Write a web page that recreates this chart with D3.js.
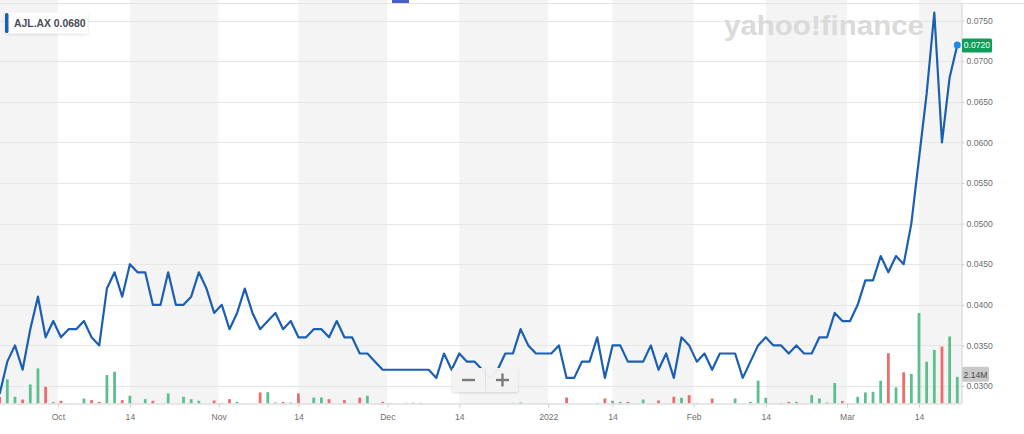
<!DOCTYPE html>
<html>
<head>
<meta charset="utf-8">
<script src="https://cdn.jsdelivr.net/npm/d3@7"></script>
<style>
  body { margin: 0; background: #fff; }
  svg { display: block; font-family: "Helvetica Neue", Arial, "Liberation Sans", sans-serif; }
  .axis path, .axis line { stroke: #cfcfcf; }
  .axis text { fill: #6e6e6e; font-size: 8.6px; }
</style>
</head>
<body>
<div id="chart"></div>
<script>
//Chart Data (one value per trading day, Sep 21 2021 -> Mar 21 2022)
const symbol = "AJL.AX";
const hoverValue = "0.0680";
const closes = [
  0.029, 0.033, 0.035, 0.032, 0.037, 0.041, 0.036, 0.038, 0.036, 0.037,
  0.037, 0.038, 0.036, 0.035, 0.042, 0.044, 0.041, 0.045, 0.044, 0.044,
  0.040, 0.040, 0.044, 0.040, 0.040, 0.041, 0.044, 0.042, 0.039, 0.040,
  0.037, 0.039, 0.042, 0.039, 0.037, 0.038, 0.039, 0.037, 0.038, 0.036,
  0.036, 0.037, 0.037, 0.036, 0.038, 0.036, 0.036, 0.034, 0.034, 0.033,
  0.032, 0.032, 0.032, 0.032, 0.032, 0.032, 0.032, 0.031, 0.034, 0.032,
  0.034, 0.033, 0.033, 0.032, 0.031, 0.032, 0.034, 0.034, 0.037, 0.035,
  0.034, 0.034, 0.034, 0.035, 0.031, 0.031, 0.033, 0.033, 0.036, 0.031,
  0.035, 0.035, 0.033, 0.033, 0.033, 0.035, 0.032, 0.034, 0.031, 0.036,
  0.035, 0.033, 0.034, 0.032, 0.034, 0.034, 0.034, 0.031, 0.033, 0.035,
  0.036, 0.035, 0.035, 0.034, 0.035, 0.034, 0.034, 0.036, 0.036, 0.039,
  0.038, 0.038, 0.040, 0.043, 0.043, 0.046, 0.044, 0.046, 0.045, 0.050,
  0.058, 0.066, 0.076, 0.060, 0.068, 0.072
];
const priorClose = 0.030;
// volume in millions
const volumes = [
  0.54, 1.94, 0.54, 0.32, 1.53, 2.82, 1.34, 0.11, 0.22, 0,
  0, 0.40, 0.27, 0.13, 2.28, 2.55, 0.27, 0.62, 0, 0.35,
  0.22, 0, 0.81, 0, 0.54, 0.35, 0.22, 0, 0.24, 0.05,
  0.35, 0.13, 0, 0, 0.89, 0.91, 0.08, 0.13, 0.08, 0.81,
  0, 0.48, 0.48, 0.35, 0, 0.27, 0, 0.48, 0.62, 0,
  0.13, 0.05, 0, 0.05, 0.06, 0.05, 0, 0, 0, 0,
  0, 0, 0, 0, 0, 0, 0, 0.05, 0.08, 0,
  0, 0, 0, 0, 0.48, 0, 0, 0, 0.05, 0.40,
  0.22, 0.13, 0.13, 0, 0.32, 0, 0.24, 0, 0.54, 0.46,
  0.67, 0.05, 0, 0.40, 0, 0, 0.40, 0, 0.13, 1.83,
  0.46, 0, 0.05, 0.13, 0.13, 0, 0.67, 0.40, 0.08, 1.64,
  0.19, 0, 0.54, 0.89, 0.94, 1.83, 4.03, 1.29, 2.50, 2.37,
  7.26, 3.35, 4.30, 4.57, 5.38, 2.14
];
const lastVolumeLabel = "2.14M";
// tick positions in trading-day index (month starts fall between two days)
const tickIndex = [7.6, 17, 28.6, 39, 50.6, 60, 71.6, 80, 90.6, 100, 110.6, 120];
const tickLabels = ["Oct", "14", "Nov", "14", "Dec", "14", "2022", "14", "Feb", "14", "Mar", "14"];
const priceTicks = [0.030, 0.035, 0.040, 0.045, 0.050, 0.055, 0.060, 0.065, 0.070, 0.075];

//Dimensions
let svgWidth = 1024;
let svgHeight = 434;
let plotRight = 961.5;
let baseline = 403.5;

let svg = d3.select("#chart")
  .append("svg")
  .attr("width", svgWidth)
  .attr("height", svgHeight);

//Scales
let xScale = d3.scaleLinear()
  .domain([0, closes.length - 1])
  .range([-0.36, 957.3]);
let yScale = d3.scaleLinear()
  .domain([0.030, 0.075])
  .range([386, 20.6]);
let volScale = d3.scaleLinear()
  .domain([0, 8])
  .range([baseline, baseline - 8 * 12.46]);

//Clip for plot area and a soft shadow
let defs = svg.append("defs");
defs.append("clipPath").attr("id", "plotClip")
  .append("rect").attr("x", 0).attr("y", 0).attr("width", plotRight).attr("height", baseline);
let filter = defs.append("filter").attr("id", "shadow")
  .attr("x", "-20%").attr("y", "-30%").attr("width", "140%").attr("height", "160%");
filter.append("feDropShadow").attr("dx", 0).attr("dy", 1).attr("stdDeviation", 1.2)
  .attr("flood-color", "#000").attr("flood-opacity", 0.15);

//Alternating half-month bands (gray from the 14th to next month start)
let bounds = [xScale.domain()[0] - 2].concat(tickIndex).concat([xScale.domain()[1] + 2]);
let bands = [];
for (let i = 0; i < bounds.length - 1; i++) {
  let startsAt14 = i === 0 || tickLabels[i - 1] === "14";
  bands.push({ from: bounds[i], to: bounds[i + 1], gray: startsAt14 });
}
let plot = svg.append("g").attr("clip-path", "url(#plotClip)");
plot.selectAll("rect.band")
  .data(bands)
  .enter()
  .append("rect")
  .attr("class", "band")
  .attr("x", d => xScale(d.from))
  .attr("y", 0)
  .attr("width", d => xScale(d.to) - xScale(d.from))
  .attr("height", baseline)
  .attr("fill", d => d.gray ? "#f4f4f4" : "#ffffff");

//Horizontal gridlines
plot.selectAll("line.grid")
  .data(priceTicks)
  .enter()
  .append("line")
  .attr("class", "grid")
  .attr("x1", 0)
  .attr("x2", plotRight)
  .attr("y1", d => Math.round(yScale(d)) + 0.5)
  .attr("y2", d => Math.round(yScale(d)) + 0.5)
  .attr("stroke", "#e6e6e6");

//Top frame line and scroll marker
svg.append("line")
  .attr("x1", 0).attr("x2", svgWidth).attr("y1", 3.5).attr("y2", 3.5)
  .attr("stroke", "#e3e3e3");
svg.append("rect")
  .attr("x", 392).attr("y", 0).attr("width", 17).attr("height", 3)
  .attr("fill", "#4a5cd0");

//Watermark
svg.append("text")
  .attr("x", 724)
  .attr("y", 35)
  .attr("textLength", 200)
  .attr("lengthAdjust", "spacingAndGlyphs")
  .style("font-size", "27px")
  .style("font-weight", "800")
  .style("fill", "#dadada")
  .text("yahoo!finance");

//Volume bars, green when close is not below the previous close
let volData = volumes.map((v, i) => ({
  i: i,
  v: v,
  up: closes[i] >= (i === 0 ? priorClose : closes[i - 1]) && i !== 0
})).filter(d => d.v > 0);
plot.selectAll("rect.vol")
  .data(volData)
  .enter()
  .append("rect")
  .attr("class", "vol")
  .attr("x", d => xScale(d.i) - 1.4)
  .attr("y", d => volScale(d.v))
  .attr("width", 2.8)
  .attr("height", d => baseline - volScale(d.v))
  .attr("fill", d => d.up ? "#5cbf8d" : "#ee6c6c");

//Price line
let line = d3.line()
  .x((d, i) => xScale(i))
  .y(d => yScale(d));
plot.append("path")
  .datum(closes)
  .attr("d", line)
  .attr("fill", "none")
  .attr("stroke", "#1b5fb3")
  .attr("stroke-width", 2.2)
  .attr("stroke-linejoin", "round");

//Last point marker
let lastIdx = closes.length - 1;
svg.append("circle")
  .attr("cx", xScale(lastIdx))
  .attr("cy", yScale(closes[lastIdx]))
  .attr("r", 3.5)
  .attr("fill", "#1e8ae6");

//Bottom axis
let bottomAxis = d3.axisBottom(xScale)
  .tickValues(tickIndex)
  .tickFormat((d, i) => tickLabels[i])
  .tickSize(4)
  .tickPadding(6.5);
let bottomG = svg.append("g")
  .attr("class", "axis")
  .attr("transform", `translate(0, ${baseline})`)
  .call(bottomAxis);
bottomG.select(".domain").attr("d", `M0,0.5H${plotRight}`);

//Right axis
let rightAxis = d3.axisRight(yScale)
  .tickValues(priceTicks)
  .tickFormat(d3.format(".4f"))
  .tickSize(3)
  .tickPadding(2);
let rightG = svg.append("g")
  .attr("class", "axis")
  .attr("transform", `translate(${plotRight}, 0)`)
  .call(rightAxis);
rightG.select(".domain").attr("d", `M0.5,3.5V${baseline}`);

//Last price badge
let lastY = yScale(closes[lastIdx]);
svg.append("rect")
  .attr("x", plotRight + 0.5).attr("y", lastY - 6.5)
  .attr("width", 30).attr("height", 14).attr("rx", 1.5)
  .attr("fill", "#0f9d58");
svg.append("text")
  .attr("x", plotRight + 15.5).attr("y", lastY + 3.5)
  .style("text-anchor", "middle")
  .style("font-size", "8.6px")
  .style("fill", "#fff")
  .text(d3.format(".4f")(closes[lastIdx]));

//Last volume badge
let lastV = volScale(volumes[lastIdx]);
svg.append("rect")
  .attr("x", plotRight + 0.5).attr("y", lastV - 10)
  .attr("width", 27).attr("height", 15).attr("rx", 1.5)
  .attr("fill", "#c9c9c9");
svg.append("text")
  .attr("x", plotRight + 14).attr("y", lastV + 1)
  .style("text-anchor", "middle")
  .style("font-size", "8.6px")
  .style("fill", "#4a4a4a")
  .text(lastVolumeLabel);

//Legend box
let legend = svg.append("g");
legend.append("rect")
  .attr("x", 5).attr("y", 12.5).attr("width", 83).attr("height", 21).attr("rx", 2)
  .attr("fill", "#fff")
  .attr("filter", "url(#shadow)");
legend.append("rect")
  .attr("x", 5).attr("y", 13).attr("width", 3.5).attr("height", 20).attr("rx", 1.5)
  .attr("fill", "#1b5fb3");
legend.append("text")
  .attr("x", 14).attr("y", 27)
  .style("font-size", "10.4px")
  .style("font-weight", "600")
  .style("fill", "#464e56")
  .text(`${symbol} ${hoverValue}`);

//Zoom control
let zoomCtl = svg.append("g");
zoomCtl.append("rect")
  .attr("x", 452).attr("y", 368).attr("width", 66).attr("height", 24).attr("rx", 2)
  .attr("fill", "#f3f3f3")
  .attr("fill-opacity", 0.95)
  .attr("filter", "url(#shadow)");
zoomCtl.append("line")
  .attr("x1", 485.5).attr("x2", 485.5).attr("y1", 369).attr("y2", 391)
  .attr("stroke", "#e0e0e0");
zoomCtl.append("line")
  .attr("x1", 462).attr("x2", 475).attr("y1", 380).attr("y2", 380)
  .attr("stroke", "#7a7a7a").attr("stroke-width", 2.4);
zoomCtl.append("line")
  .attr("x1", 496).attr("x2", 509).attr("y1", 380).attr("y2", 380)
  .attr("stroke", "#7a7a7a").attr("stroke-width", 2.4);
zoomCtl.append("line")
  .attr("x1", 502.5).attr("x2", 502.5).attr("y1", 373.5).attr("y2", 386.5)
  .attr("stroke", "#7a7a7a").attr("stroke-width", 2.4);
</script>
</body>
</html>
